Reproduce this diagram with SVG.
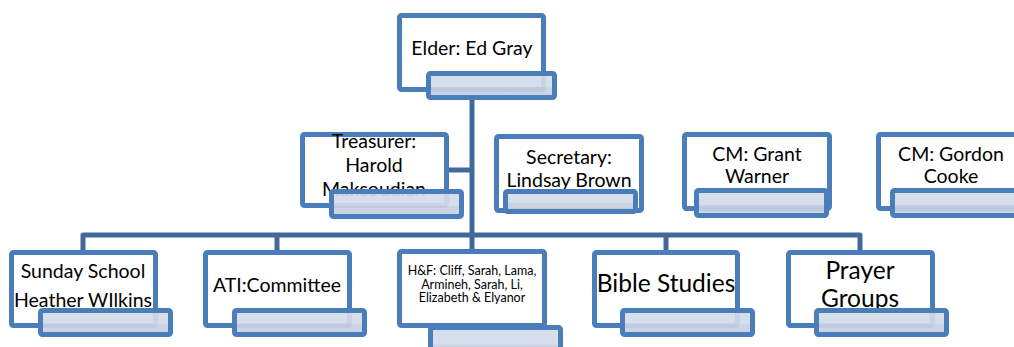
<svg xmlns="http://www.w3.org/2000/svg" width="1014" height="347" viewBox="0 0 1014 347">
<style>
.box{fill:#ffffff;stroke:#4a7ebb;stroke-width:5;}
.sub{fill:url(#subg);fill-opacity:0.92;stroke:#4a7ebb;stroke-width:5;}
.con{fill:none;stroke:#41699b;stroke-width:5;stroke-linejoin:round;}
text{font-family:Lato,"Open Sans","Liberation Sans",sans-serif;fill:#000;text-anchor:middle;}
.t18{font-size:19.5px;}
.t22{font-size:24.5px;}
.t11{font-size:12.5px;}
</style>
<defs>
<linearGradient id="subg" x1="0" y1="0" x2="0" y2="1">
<stop offset="0" stop-color="#d3dbea"/>
<stop offset="0.55" stop-color="#d3dbea"/>
<stop offset="0.6" stop-color="#c8d0e2"/>
<stop offset="1" stop-color="#c8d0e2"/>
</linearGradient>
</defs>
<rect width="1014" height="347" fill="#ffffff"/>
<g id="connectors">
<path class="con" d="M472 100 V250"/>
<path class="con" d="M448 170 H472"/>
<path class="con" d="M83 250 V235 H860 V250"/>
<path class="con" d="M277 235 V250"/>
<path class="con" d="M666 235 V250"/>
</g>
<g id="elder">
<rect class="box" x="399.5" y="15.5" width="144" height="74" rx="2"/>
<text class="t18" x="472" y="55">Elder: Ed Gray</text>
<rect class="sub" x="428.5" y="73.5" width="126" height="24" rx="2"/>
</g>
<g id="treasurer">
<rect class="box" x="302.5" y="134.5" width="144" height="71" rx="2"/>
<text class="t18" x="374" y="148">Treasurer:</text>
<text class="t18" x="374" y="172">Harold</text>
<text class="t18" x="374" y="196">Maksoudian</text>
<rect class="sub" x="331.5" y="191.5" width="130" height="25" rx="2"/>
</g>
<g id="secretary">
<rect class="box" x="496.5" y="136.5" width="145" height="74" rx="2"/>
<text class="t18" x="569" y="164">Secretary:</text>
<text class="t18" x="569" y="187">Lindsay Brown</text>
<rect class="sub" x="505.5" y="191.5" width="130" height="20" rx="2"/>
</g>
<g id="cm-grant">
<rect class="box" x="684.5" y="134.5" width="145" height="74" rx="2"/>
<text class="t18" x="757" y="161">CM: Grant</text>
<text class="t18" x="757" y="183">Warner</text>
<rect class="sub" x="696.5" y="190.5" width="130" height="25" rx="2"/>
</g>
<g id="cm-gordon">
<rect class="box" x="878.5" y="134.5" width="145" height="74" rx="2"/>
<text class="t18" x="951" y="161">CM: Gordon</text>
<text class="t18" x="951" y="183">Cooke</text>
<rect class="sub" x="892.5" y="190.5" width="130" height="25" rx="2"/>
</g>
<g id="sunday-school">
<rect class="box" x="11.5" y="252.5" width="144" height="73" rx="2"/>
<text class="t18" x="83" y="278">Sunday School</text>
<text class="t18" x="83" y="307">Heather WIlkins</text>
<rect class="sub" x="40.5" y="310.5" width="130" height="24" rx="2"/>
</g>
<g id="ati">
<rect class="box" x="205.5" y="252.5" width="144" height="73" rx="2"/>
<text class="t18" x="277" y="292">ATI:Committee</text>
<rect class="sub" x="234.5" y="310.5" width="130" height="24" rx="2"/>
</g>
<g id="hf">
<rect class="box" x="399.5" y="251.5" width="145" height="74" rx="2"/>
<text class="t11" x="472" y="275">H&amp;F: Cliff, Sarah, Lama,</text>
<text class="t11" x="472" y="289">Armineh, Sarah, Li,</text>
<text class="t11" x="472" y="302">Elizabeth &amp; Elyanor</text>
<rect class="sub" x="430.5" y="327.5" width="130" height="30" rx="2"/>
</g>
<g id="bible-studies">
<rect class="box" x="594.5" y="252.5" width="143" height="73" rx="2"/>
<text class="t22" x="666" y="292">Bible Studies</text>
<rect class="sub" x="622.5" y="310.5" width="130" height="24" rx="2"/>
</g>
<g id="prayer-groups">
<rect class="box" x="788.5" y="252.5" width="144" height="73" rx="2"/>
<text class="t22" x="860" y="279">Prayer</text>
<text class="t22" x="860" y="307">Groups</text>
<rect class="sub" x="816.5" y="310.5" width="130" height="24" rx="2"/>
</g>
</svg>
